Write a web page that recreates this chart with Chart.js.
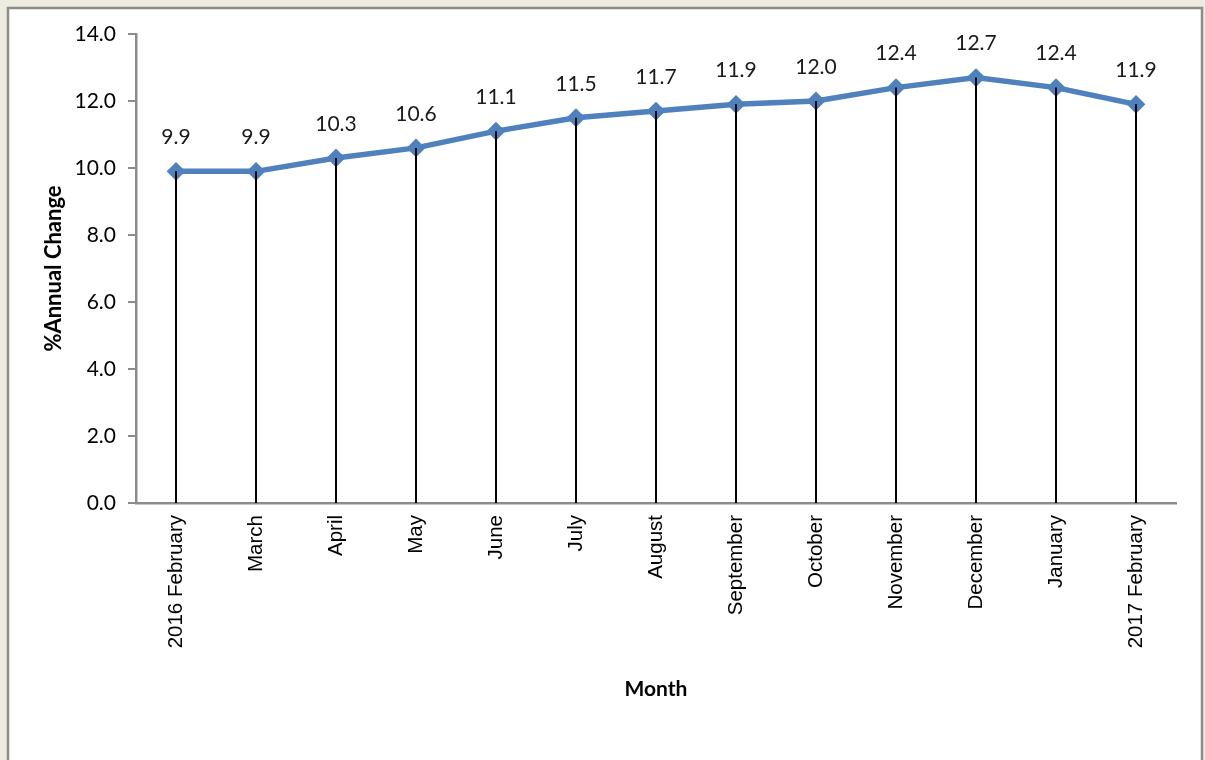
<!DOCTYPE html>
<html>
<head>
<meta charset="utf-8">
<script src="https://cdn.jsdelivr.net/npm/chart.js@4"></script>
<style>
  html, body { margin: 0; padding: 0; background: #eeece1; }
  #wrap { position: absolute; left: 0; top: 0; width: 1205px; height: 760px; }
</style>
</head>
<body>
<div id="wrap"><canvas id="chart"></canvas></div>
<script>
// datos
const meses = ['2016 February', 'March', 'April', 'May', 'June', 'July', 'August',
               'September', 'October', 'November', 'December', 'January', '2017 February'];
const cambioAnual = [9.9, 9.9, 10.3, 10.6, 11.1, 11.5, 11.7, 11.9, 12.0, 12.4, 12.7, 12.4, 11.9];
const ticksY = [0, 2, 4, 6, 8, 10, 12, 14];

// fondo beige y panel blanco con borde gris
const panelPlugin = {
    id: 'panel',
    beforeDraw(chart) {
        const ctx = chart.ctx;
        ctx.save();
        ctx.fillStyle = '#eeece1';
        ctx.fillRect(0, 0, chart.width, chart.height);
        ctx.fillStyle = '#ffffff';
        ctx.fillRect(8, 8, 1194, chart.height);
        ctx.strokeStyle = '#8c8c8c';
        ctx.lineWidth = 2.5;
        ctx.strokeRect(8, 8, 1194, chart.height + 10);
        ctx.restore();
    }
};

// lineas verticales desde cada punto hasta el eje + etiquetas
const dropPlugin = {
    id: 'dropLines',
    afterDatasetsDraw(chart) {
        const ctx = chart.ctx;
        const meta = chart.getDatasetMeta(0);
        const yScale = chart.scales.y;
        ctx.save();
        ctx.strokeStyle = '#000000';
        ctx.lineWidth = 2;
        meta.data.forEach(pt => {
            ctx.beginPath();
            ctx.moveTo(pt.x, pt.y);
            ctx.lineTo(pt.x, yScale.getPixelForValue(0));
            ctx.stroke();
        });
        ctx.fillStyle = '#1a1a1a';
        ctx.font = '21px Lato';
        ctx.textAlign = 'center';
        ctx.textBaseline = 'middle';
        meta.data.forEach((pt, i) => {
            ctx.fillText(cambioAnual[i].toFixed(1), pt.x, pt.y - 34);
        });
        ctx.restore();
    }
};

new Chart(document.getElementById('chart'), {
    type: 'line',
    data: {
        labels: meses,
        datasets: [{
            data: cambioAnual,
            borderColor: '#4f81bd',
            backgroundColor: '#4f81bd',
            borderWidth: 5.5,
            pointStyle: 'rectRot',
            pointRadius: 8,
            pointBorderWidth: 2,
            pointBackgroundColor: '#4f81bd',
            pointBorderColor: '#4f81bd',
            tension: 0
        }]
    },
    options: {
        responsive: true,
        maintainAspectRatio: false,
        animation: false,
        events: [],
        layout: { padding: { left: 41, top: 34, right: 29, bottom: 58 } },
        plugins: {
            legend: { display: false },
            tooltip: { enabled: false }
        },
        scales: {
            x: {
                type: 'category',
                offset: true,
                grid: { drawOnChartArea: false, drawTicks: false },
                border: { color: '#8c8c8c', width: 2.5 },
                ticks: {
                    maxRotation: 90, minRotation: 90, autoSkip: false,
                    padding: 12,
                    color: '#000000',
                    font: { family: '"Liberation Sans", Arial', size: 20.5 }
                },
                title: {
                    display: true, text: 'Month', color: '#000000',
                    font: { family: 'Lato', size: 21, weight: 'bold' },
                    padding: { top: 10, bottom: 0 }
                },
                afterFit(scale) { scale.height = 702 - 503; }
            },
            y: {
                min: 0, max: 14,
                afterBuildTicks(scale) { scale.ticks = ticksY.map(v => ({ value: v })); },
                grid: { drawOnChartArea: false, drawTicks: true, tickLength: 8, color: '#8c8c8c', lineWidth: 2 },
                border: { color: '#8c8c8c', width: 2.5 },
                ticks: {
                    padding: 12,
                    color: '#000000',
                    font: { family: 'Lato', size: 21 },
                    callback: v => Number(v).toFixed(1)
                },
                title: {
                    display: true, text: '%Annual Change', color: '#000000',
                    font: { family: 'Lato', size: 22, weight: 'bold' },
                    padding: { top: 0, bottom: 0 }
                },
                afterFit(scale) { scale.width = 136 - 41; }
            }
        }
    },
    plugins: [panelPlugin, dropPlugin]
});
</script>
</body>
</html>
